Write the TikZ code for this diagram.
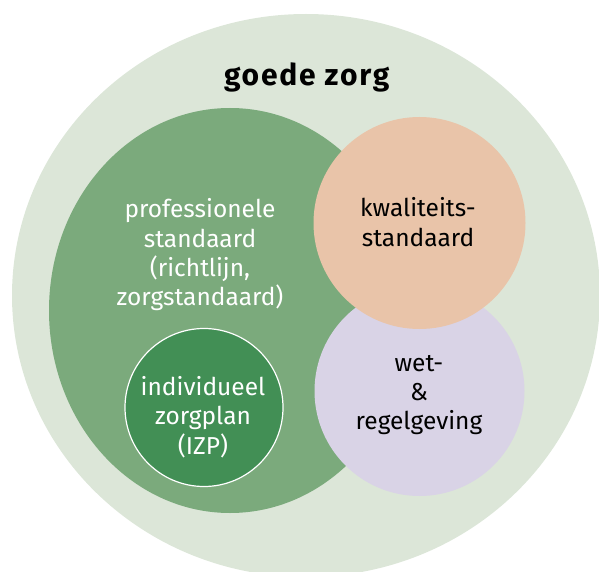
\documentclass[tikz,border=0pt]{standalone}
\usepackage{fontspec}
\setmainfont{Fira Sans}
\newfontfamily\titlefont[LetterSpace=6]{Fira Sans}
\definecolor{bigc}{HTML}{DCE6D8}
\definecolor{medc}{HTML}{7BAA7C}
\definecolor{darkc}{HTML}{428F55}
\definecolor{peachc}{HTML}{E9C4A9}
\definecolor{purplec}{HTML}{D9D3E6}
\begin{document}
\begin{tikzpicture}[x=1pt,y=-1pt,
  lbl/.style={align=center,inner sep=0pt,font=\fontsize{24.5}{29.3}\selectfont},
  ]
\useasboundingbox (0,0) rectangle (599,572);
\clip (0,0) rectangle (599,572);
\fill[bigc] (306,295.5) ellipse [x radius=294, y radius=281.5];
\fill[medc] (230,310.5) ellipse [x radius=181, y radius=202.5];
\fill[purplec] (419.5,391) circle [radius=105];
\fill[peachc] (419.5,223) circle [radius=106];
\filldraw[fill=darkc,draw=white,line width=1.2pt] (204,407.5) circle [radius=79];
\node[inner sep=0pt,font=\fontsize{30}{36}\selectfont\titlefont\bfseries] (title) at (306.7,77) {goede zorg};
\node[lbl,text=white] (prof) at (200,255) {professionele\\standaard\\(richtlijn,\\zorgstandaard)};
\node[lbl,text=white] (izp) at (203,417) {individueel\\zorgplan\\(IZP)};
\node[lbl,text=black] (kwal) at (418,222) {kwaliteits-\\standaard};
\node[lbl,text=black] (wet) at (419,395) {wet-\\\&\\regelgeving};
\end{tikzpicture}
\end{document}
